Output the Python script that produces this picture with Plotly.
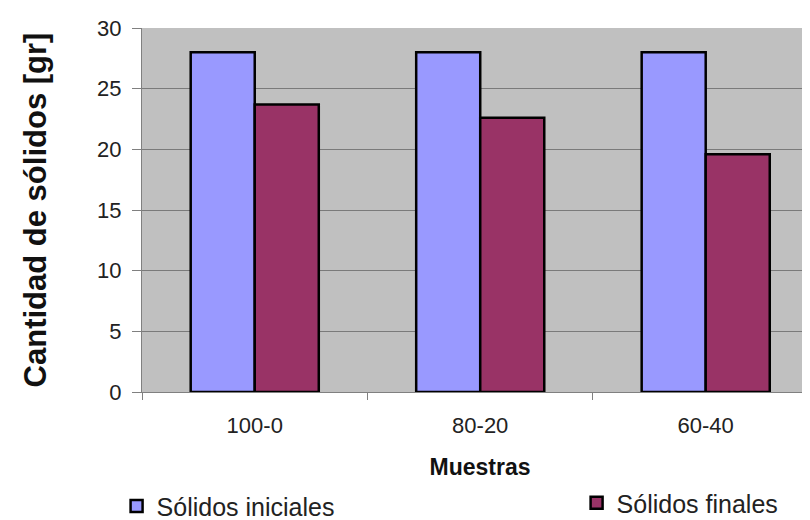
import plotly.graph_objects as go

categories = ["100-0", "80-20", "60-40"]
solidos_iniciales = [28, 28, 28]
solidos_finales = [23.7, 22.6, 19.6]
y_ticks = [0, 5, 10, 15, 20, 25, 30]

FONT = "Liberation Sans, Arial, sans-serif"

fig = go.Figure()
fig.add_trace(go.Bar(
    x=categories, y=solidos_iniciales, name="Sólidos iniciales",
    marker=dict(color="#9999FF", line=dict(color="#000000", width=2.5)),
    legend="legend",
))
fig.add_trace(go.Bar(
    x=categories, y=solidos_finales, name="Sólidos finales",
    marker=dict(color="#993366", line=dict(color="#000000", width=2.5)),
    legend="legend2",
))

legend_common = dict(
    orientation="h", xanchor="left", yanchor="top",
    font=dict(family=FONT, size=25, color="#222222"),
    bgcolor="rgba(0,0,0,0)",
)

fig.update_layout(
    width=810, height=520,
    margin=dict(l=134, r=0, t=20, b=136, autoexpand=False),
    paper_bgcolor="white",
    plot_bgcolor="#C0C0C0",
    barmode="group",
    bargap=0.432,
    bargroupgap=0,
    font=dict(family=FONT, size=22, color="#222222"),
    showlegend=True,
    legend=dict(x=-0.0376, y=-0.251, **legend_common),
    legend2=dict(x=0.6429, y=-0.242, **legend_common),
    xaxis=dict(
        type="category",
        range=[-0.5, 2.498],
        tickson="boundaries",
        ticks="outside", ticklen=7, tickcolor="#808080", tickwidth=1,
        ticklabelstandoff=14,
        showline=True, linecolor="#808080", linewidth=1,
        showgrid=False,
        automargin=False,
        tickfont=dict(size=22, color="#222222"),
        title=dict(text="<b>Muestras</b>", font=dict(size=23, color="#111111"), standoff=21),
    ),
    yaxis=dict(
        range=[0, 30],
        tickvals=y_ticks,
        ticks="outside", ticklen=9, tickcolor="#808080", tickwidth=1,
        ticklabelstandoff=6,
        showline=True, linecolor="#808080", linewidth=1,
        showgrid=True, gridcolor="#7a7a7a", gridwidth=1,
        zeroline=False,
        automargin=False,
        tickfont=dict(size=22, color="#222222"),
        title=dict(text="<b>Cantidad de sólidos [gr]</b>", font=dict(size=31, color="#111111"), standoff=41),
    ),
)

fig.write_html("out.html")
